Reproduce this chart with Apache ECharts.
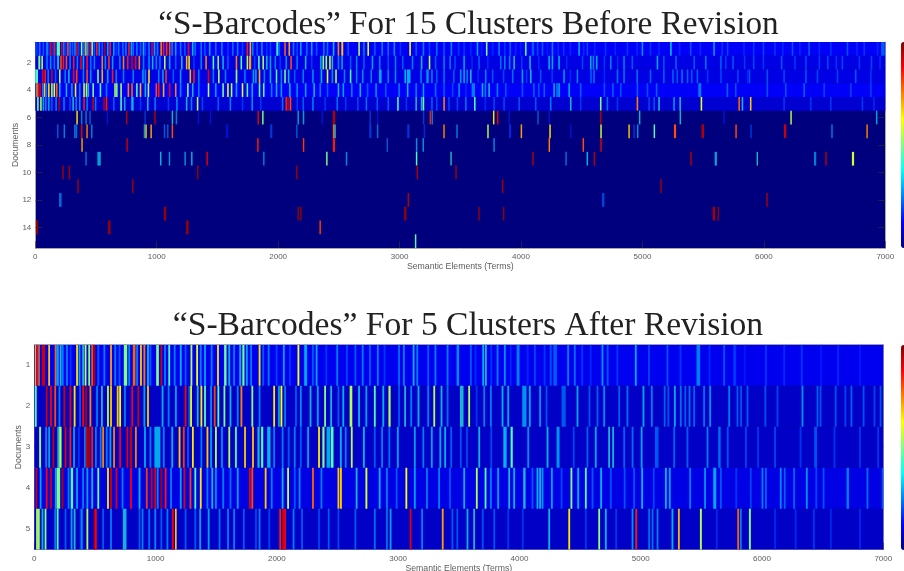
<!DOCTYPE html>
<html><head><meta charset="utf-8">
<style>html,body{margin:0;padding:0;background:#fff}#c{width:904px;height:571px;filter:blur(.6px)}</style>
<script src="https://cdn.jsdelivr.net/npm/echarts@6/dist/echarts.min.js"></script>
</head><body><div id="c"></div>
<script>
const titleTop = '\u201CS-Barcodes\u201D For 15 Clusters Before Revision';
const titleBottom = '\u201CS-Barcodes\u201D For 5 Clusters After Revision';
const xName = 'Semantic Elements (Terms)';
const yName = 'Documents';
const topDocs = ['1','2','3','4','5','6','7','8','9','10','11','12','13','14','15'];
const bottomDocs = ['1','2','3','4','5'];
const rowBase = {t1:.12,t2:.1,t3:.1,t4:.12,t5:.08,b1:.11,b2:.07,b3:.07,b4:.1,b5:.07};
const t1=[[0,.2,20],[30,.3],[60,.25],[90,.35],[105,.2],[120,.9],[135,.18],[150,.85],[165,.22],[178,.45,25],[212,.9],[228,.3],[245,.2],[262,.8],[280,.3],[300,.25],[320,.32],[335,.9],[350,.22],[375,.5],[395,.3],[410,.7],[425,.35],[445,.92],[462,.5],[480,.25],[500,.85],[520,.32],[545,.25],[565,.95],[590,.35],[610,.85],[640,.35],[660,.2],[680,.3],[715,.28],[740,.3],[765,.85],[785,.35],[800,.28],[830,.3],[860,.25],[885,.4],[900,.22],[930,.3],[955,.9],[975,.35],[1000,.3],[1030,.75],[1050,.85],[1075,.82],[1100,.8],[1120,.3],[1150,.35],[1190,.3],[1225,.25],[1255,.88],[1290,.4],[1310,.28],[1360,.3],[1390,.25],[1430,.35],[1480,.28],[1530,.3],[1580,.2],[1620,.28],[1660,.3],[1700,.22],[1740,.85],[1765,.7],[1785,.3],[1820,.25],[1860,.32],[1900,.2],[1930,.22],[1985,.45],[2000,.3],[2050,.78],[2085,.72],[2120,.3],[2150,.22],[2180,.35],[2230,.28],[2270,.35],[2310,.25],[2370,.3],[2400,.28],[2450,.4],[2490,.75],[2520,.68,16],[2570,.25],[2660,.55],[2700,.3],[2735,.6],[2790,.25],[2850,.3],[2900,.28],[2950,.32],[3000,.2],[3080,.62],[3130,.25],[3190,.3],[3240,.22],[3300,.28],[3360,.25],[3420,.3],[3480,.2],[3525,.2],[3580,.18],[3635,.35],[3670,.16],[3711,.5],[3760,.18],[3813,.3],[3860,.2],[3904,.25,14],[3950,.18],[3990,.16],[4033,.45],[4088,.25,20],[4130,.22,14],[4170,.25],[4210,.16],[4252,.3],[4300,.18],[4345,.2],[4400,.18],[4472,.35],[4510,.18],[4540,.22],[4600,.18],[4690,.2],[4770,.18],[4870,.2],[4950,.18],[4993,.33],[5060,.2],[5130,.18],[5227,.36,15],[5300,.18],[5391,.24],[5470,.18],[5583,.33,14],[5650,.2],[5695,.22],[5830,.18],[5910,.2],[5990,.22],[6085,.2],[6150,.18],[6229,.24],[6290,.18],[6366,.25],[6450,.18],[6545,.2],[6682,.24],[6760,.18],[6820,.2],[6930,.18],[6965,.25,30]];
const t2=[[25,.5,16],[50,.55],[90,.3],[120,.32],[150,.28],[180,.42,16],[205,.8],[225,.85],[250,.8],[280,.3],[310,.85],[340,.3],[370,.88],[390,.35],[420,.85],[450,.28],[480,.3],[545,.75],[570,.3],[600,.82],[630,.35],[690,.3],[720,.75],[755,.85],[790,.92],[820,.88],[850,.75],[885,.3],[930,.32],[960,.4],[990,.3],[1020,.28],[1060,.55],[1100,.35],[1150,.25],[1200,.4],[1240,.7],[1260,.65],[1300,.2],[1360,.3],[1400,.75],[1460,.45],[1500,.5],[1540,.4],[1580,.25],[1650,.75],[1690,.45],[1740,.55],[1760,.72,18],[1800,.22],[1835,.45],[1870,.55],[1900,.4],[1930,.35],[1970,.3],[2010,.2],[2060,.32],[2100,.8],[2150,.3],[2220,.4],[2270,.2],[2345,.35],[2365,.5],[2390,.55],[2420,.58],[2440,.42],[2490,.3],[2520,.35],[2590,.25],[2640,.3],[2700,.25],[2770,.35],[2830,.3],[2900,.22],[2960,.3],[3020,.25],[3100,.3],[3175,.4],[3240,.55],[3290,.25],[3360,.3],[3410,.28],[3450,.22],[3525,.35],[3590,.18],[3648,.25],[3720,.18],[3827,.28],[3860,.3],[3900,.3],[3937,.42],[4000,.2],[4068,.4],[4140,.18],[4225,.36],[4252,.36],[4307,.36],[4370,.18],[4500,.22],[4568,.36],[4590,.3],[4617,.36],[4680,.2],[4733,.3],[4790,.18],[4842,.3],[4910,.24],[5117,.36],[5170,.24],[5270,.26],[5420,.24],[5515,.28],[5640,.26],[5680,.2],[5740,.24],[5835,.2],[5910,.22],[5990,.2],[6140,.24],[6250,.2],[6340,.22],[6450,.2],[6520,.22],[6590,.2],[6640,.22],[6780,.2],[6880,.22],[6950,.18]];
const t3=[[0,.45,22],[55,.9],[75,.85],[100,.3],[130,.92],[160,.25],[195,.55],[240,.3],[270,.4],[310,.88],[335,.82],[390,.3],[420,.8],[450,.32],[510,.5],[545,.7],[590,.35],[630,.85],[660,.3],[720,.3],[800,.3],[880,.35],[900,.3],[930,.65],[1010,.3],[1045,.35],[1070,.82],[1130,.25],[1190,.35],[1270,.7],[1300,.85],[1340,.3],[1420,.9],[1460,.3],[1505,.55],[1560,.3],[1650,.52,14],[1720,.3],[1790,.35],[1810,.35],[1840,.7],[1880,.3],[1930,.38],[1980,.45],[2020,.3],[2050,.5],[2080,.4],[2130,.25],[2200,.3],[2280,.32],[2350,.38],[2400,.6],[2440,.32],[2470,.55],[2540,.3],[2590,.45],[2640,.3],[2690,.32],[2760,.3],[2830,.36,22],[2900,.3],[2960,.32],[3040,.38],[3060,.36,30],[3170,.3],[3220,.33,20],[3260,.3],[3300,.25],[3360,.28],[3440,.25],[3497,.33],[3525,.35],[3550,.3],[3580,.42],[3640,.18],[3703,.3],[3760,.24],[3850,.22],[3925,.28],[4005,.35],[4040,.2],[4074,.4],[4155,.24],[4250,.2],[4348,.33],[4400,.18],[4458,.3],[4570,.26],[4595,.28],[4680,.18],[4788,.28],[4842,.28],[4950,.28],[5060,.26],[5170,.26],[5245,.26],[5280,.24],[5320,.28],[5365,.26],[5400,.24],[5446,.26],[5530,.2],[5640,.22],[5780,.22],[5875,.24],[5860,.18],[6022,.24],[6160,.22],[6340,.24],[6435,.22],[6600,.22],[6750,.24],[6875,.2]];
const t4=[[8,.72,12],[22,.88],[35,.93],[55,.3],[70,.68],[85,.28],[105,.66],[130,.55],[150,.6],[170,.78],[195,.4],[250,.42],[295,.35],[325,.65],[360,.3],[395,.6],[415,.55],[430,.4],[470,.5],[530,.45],[580,.3],[650,.55],[665,.5],[700,.55],[760,.75],[790,.78],[830,.45],[860,.7],[900,.4],[925,.55],[990,.8],[1010,.85],[1050,.7],[1100,.88],[1150,.75],[1190,.32],[1250,.5],[1290,.42],[1340,.3],[1420,.55],[1480,.35],[1540,.5],[1580,.6],[1610,.55],[1650,.35],[1700,.6],[1740,.45],[1780,.38],[1840,.48],[1875,.45],[1940,.3],[1980,.38],[2020,.35],[2090,.38],[2150,.32],[2220,.35],[2290,.4],[2340,.3],[2400,.25],[2490,.42],[2530,.35],[2600,.3],[2670,.38],[2730,.25],[2800,.33],[2880,.25],[2990,.3],[3060,.4],[3130,.3],[3190,.35],[3290,.28],[3360,.25],[3430,.22],[3484,.33],[3540,.18],[3593,.3,28],[3676,.38],[3700,.3],[3731,.42],[3799,.3],[3868,.24],[4005,.24],[4100,.26],[4140,.24],[4185,.26],[4266,.36],[4290,.3],[4307,.36],[4390,.36],[4485,.26],[4680,.24],[4750,.26],[4815,.24],[4952,.26],[5035,.24],[5110,.26],[5460,.3,24],[5693,.26],[5762,.24],[6022,.24],[6174,.24],[6325,.26],[6490,.22],[6710,.22],[6875,.22]];
const t5=[[15,.5],[40,.55],[60,.35],[80,.3],[105,.35],[130,.25],[165,.3],[190,.95],[230,.3],[280,.22],[305,.42],[330,.3],[360,.32],[395,.85],[420,.3],[470,.92],[490,.3],[560,.95],[580,.85],[640,.25],[700,.45],[730,.35],[790,.38,20],[860,.2],[920,.4],[980,.3],[1090,.2],[1160,.32],[1240,.4],[1280,.3],[1330,.55],[1370,.22],[1500,.25],[1600,.3],[1700,.2],[1780,.32],[1850,.2],[2030,.28],[2060,.85],[2075,.92],[2095,.8],[2150,.2],[2200,.25],[2280,.3],[2380,.2],[2480,.28],[2550,.2],[2650,.22],[2720,.28],[2810,.25],[2900,.25],[2980,.45],[3050,.2],[3130,.42],[3175,.38],[3190,.48],[3260,.25],[3300,.22],[3360,.75],[3400,.22],[3470,.22],[3539,.28],[3613,.45],[3700,.18],[3772,.22],[3854,.22],[3978,.24],[4115,.24],[4238,.3],[4403,.42],[4485,.2],[4650,.5],[4705,.28],[4788,.2],[4952,.75],[5048,.22],[5090,.24],[5130,.42],[5254,.33],[5304,.42],[5479,.6],[5790,.78],[5817,.42],[5885,.68],[6160,.2],[6380,.2],[6545,.2],[6805,.2],[6900,.18]];
const t6=[[338,.65],[376,.3],[412,.3],[445,.25],[588,.15],[747,.95],[898,.2],[980,.95],[1123,.4],[1156,.3],[1338,.15],[1437,.15],[1830,.9],[1868,.5],[2159,.35],[2203,.35],[2357,.15],[2450,.95,20],[2752,.2],[2813,.15],[3192,.2],[3247,.85],[3263,.3],[3769,.65],[3802,.9],[3898,.15],[4134,.25],[4227,.15],[4650,.95],[4971,.4],[5306,.4],[5666,.15],[6218,.55],[6923,.35]];
const t7=[[179,.25],[233,.3],[320,.3],[333,.28],[376,.9],[420,.75],[459,.3],[893,.35],[906,.68],[948,.72],[1058,.25],[1085,.25],[1123,.8],[1571,.15,18],[1934,.2,18],[2148,.25],[2450,.78,16],[2464,.35],[2750,.2,18],[2813,.28],[3063,.2,18],[3198,.18],[3360,.75],[3467,.3],[3722,.55],[3901,.18,18],[3997,.72],[4233,.65],[4403,.15],[4653,.58],[4884,.68],[4925,.2],[4955,.33],[5092,.45],[5259,.8,18],[5487,.95,20],[5765,.8],[5888,.2],[6166,.92,18],[6555,.3],[6844,.75]];
const t8=[[379,.72],[750,.93],[1827,.85],[2203,.82],[2450,.85,18],[2893,.25],[3134,.33],[3189,.33],[3772,.32],[4227,.75],[4507,.8],[4653,.9]];
const t9=[[412,.28],[511,.35,28],[1027,.38],[1099,.33],[1228,.33],[1283,.38],[1409,.9],[1876,.3],[2395,.5],[2557,.32],[3134,.45],[3418,.43],[4093,.95],[4365,.28],[4540,.38],[4598,.95],[5394,.95],[5595,.36,18],[5940,.42],[6413,.3,18],[6506,.95],[6725,.58,18]];
const t10=[[222,.97],[275,.97],[1332,.98],[2148,.97],[3140,.96],[3459,.97]];
const t11=[[346,.97],[797,.97],[3843,.97],[5147,.97]];
const t12=[[195,.27,22],[3066,.95],[4667,.22,20],[6020,.96]];
const t13=[[1060,.97,18],[2159,.98],[2181,.98],[3038,.97,18],[3648,.98],[3851,.98],[5578,.96,20],[5619,.98]];
const t14=[[5,.98,18],[599,.97,20],[1242,.97,20],[2340,.82]];
const t15=[[3126,.45]];
const b1=[[6,.7,10],[18,.88,14],[34,.72,10],[62,.93,28],[115,.68],[130,.12,20],[168,.78,14],[182,.35,20],[210,.42],[228,.3,14],[262,.3],[292,.2],[345,.66],[365,.35],[395,.42],[415,.55],[445,.5],[470,.8],[487,.95],[520,.25],[570,.3],[625,.72],[660,.3],[695,.25],[738,.5,28],[775,.32],[812,.78,22],[840,.3],[872,.68],[900,.76],[930,.4],[950,.25],[1005,.5,22],[1040,.93],[1070,.3],[1105,.45],[1150,.3],[1200,.38],[1240,.25],[1288,.55],[1335,.6],[1365,.3],[1400,.35],[1455,.3],[1507,.65],[1565,.48,20],[1600,.4],[1640,.3],[1690,.38],[1715,.48,18],[1745,.35],[1780,.3],[1850,.65],[1880,.25],[1925,.3],[1990,.22],[2050,.35],[2100,.2],[2170,.62],[2225,.36,24],[2290,.25],[2320,.36],[2400,.2],[2490,.3],[2570,.22],[2640,.25],[2700,.3],[2760,.25],[2825,.3],[2880,.2],[3000,.28],[3040,.3],[3120,.38],[3150,.3],[3240,.25],[3300,.3],[3400,.3],[3482,.32,20],[3592,.25],[3630,.18],[3694,.38],[3716,.4],[3760,.2],[3812,.3],[3872,.33],[3920,.18],[3977,.3,24],[4060,.18],[4120,.22],[4200,.2],[4250,.24],[4279,.25,30],[4394,.3],[4449,.28],[4510,.2],[4580,.18],[4677,.33],[4720,.24],[4800,.2],[4952,.36],[5060,.22],[5213,.24],[5320,.2],[5460,.3,30],[5560,.18],[5680,.24],[5763,.2,24],[5850,.16],[6025,.2],[6175,.18],[6320,.2],[6480,.16],[6620,.18],[6800,.16]];
const b2=[[5,.45],[95,.93],[130,.88],[165,.8],[200,.3],[240,.92],[290,.9],[325,.65],[370,.25],[395,.88],[420,.95],[455,.75],[510,.3],[550,.42],[600,.55],[625,.68],[680,.68],[700,.62],[740,.3],[800,.88],[850,.92],[900,.35],[930,.68],[1050,.38],[1100,.3],[1160,.35],[1240,.88],[1270,.25],[1285,.6],[1340,.4],[1370,.65],[1400,.45],[1450,.32],[1480,.82],[1510,.45],[1560,.5],[1610,.4],[1670,.3],[1700,.75],[1790,.5],[1850,.3],[1970,.65],[2010,.35],[2030,.62],[2060,.3],[2150,.25],[2190,.32],[2270,.4],[2330,.35],[2390,.5],[2440,.4],[2500,.25],[2540,.38],[2600,.55,22],[2670,.4],[2730,.35],[2800,.45],[2870,.38],[2920,.55,18],[3000,.25],[3050,.42],[3100,.3],[3160,.38],[3240,.3],[3290,.55],[3350,.4],[3400,.28],[3509,.42,30],[3578,.55],[3640,.2],[3702,.3],[3757,.3],[3853,.38],[3900,.36],[4023,.33,35],[4078,.36],[4163,.33],[4216,.24],[4347,.25,35],[4471,.36],[4570,.24],[4636,.26],[4691,.32],[4815,.26],[4883,.28],[5015,.36],[5084,.3],[5190,.26],[5220,.24],[5274,.36],[5323,.28],[5360,.26],[5395,.28],[5433,.26],[5515,.28],[5565,.33],[5722,.3],[5790,.25],[5820,.24],[5873,.25],[6020,.24],[6120,.22],[6326,.33],[6450,.26],[6475,.24],[6600,.24],[6680,.22],[6730,.26],[6830,.24],[6920,.22],[6970,.24]];
const b3=[[40,.52,16],[90,.3],[115,.35],[150,.93],[190,.4],[205,.55,20],[250,.9],[290,.85],[320,.35],[360,.2],[410,.3],[425,.92],[445,.95],[470,.85],[500,.3],[540,.3],[560,.75],[590,.3],[620,.35],[650,.75],[700,.88],[760,.9],[790,.92],[830,.75],[905,.36],[950,.3],[990,.36,50],[1060,.3],[1130,.38],[1190,.68],[1225,.82],[1260,.25],[1300,.65],[1370,.3],[1420,.68],[1450,.35],[1490,.55],[1540,.32],[1600,.55],[1655,.45],[1730,.68],[1795,.7,16],[1840,.42,18],[1870,.45,18],[1920,.38,28],[1970,.3],[2040,.3],[2090,.25],[2140,.3],[2190,.25],[2250,.35],[2340,.65],[2375,.5,18],[2410,.36,30],[2445,.45,22],[2520,.38],[2560,.3],[2610,.55],[2710,.38],[2800,.25],[2860,.3],[2920,.28],[2990,.35],[3130,.35],[3200,.3],[3270,.35],[3340,.36],[3380,.38],[3430,.26],[3509,.24],[3560,.22],[3661,.4],[3760,.22],[3867,.38],[3880,.36],[3927,.45,18],[4065,.33],[4224,.38],[4306,.33,25],[4440,.22],[4553,.26],[4622,.36],[4732,.42],[4765,.4],[4856,.26],[4925,.28],[5000,.36],[5117,.25,30],[5268,.26],[5378,.26],[5543,.3],[5639,.28,20],[5710,.24],[5860,.22],[5960,.2],[6100,.22],[6310,.2],[6430,.24,24],[6590,.2],[6800,.2],[6950,.2]];
const b4=[[10,.93],[45,.36,14],[95,.88],[130,.92],[170,.35],[185,.5,28],[225,.95],[275,.3],[300,.45,20],[345,.35],[395,.3],[430,.35],[470,.4],[520,.48],[600,.65],[625,.92],[670,.9],[720,.3],[790,.88],[860,.4],[920,.82],[960,.92],[990,.9],[1010,.3],[1040,.95],[1075,.85],[1120,.3],[1200,.35],[1230,.9],[1280,.82],[1320,.45],[1365,.65],[1420,.3],[1460,.4],[1490,.32],[1550,.3],[1610,.28],[1670,.35],[1770,.9],[1790,.8],[1900,.68],[1950,.3],[2040,.4],[2085,.58],[2140,.25],[2180,.32],[2290,.78],[2360,.3],[2500,.68],[2520,.68,16],[2650,.42],[2730,.58,16],[2840,.38],[2900,.3],[2980,.25],[3060,.62],[3130,.35],[3230,.3],[3330,.3],[3420,.24],[3537,.38],[3641,.55],[3713,.45],[3757,.3],[3817,.35],[3908,.42],[3949,.38],[4031,.42,20],[4100,.25],[4141,.38],[4163,.38],[4183,.33],[4260,.35],[4340,.22],[4421,.5],[4477,.38],[4540,.45],[4595,.25],[4666,.38],[4746,.24],[4860,.24],[4938,.24],[5004,.38],[5100,.22],[5200,.38],[5232,.36],[5400,.3],[5523,.33],[5598,.36,25],[5653,.25],[5780,.2],[5900,.22],[5996,.3],[6025,.26],[6147,.32],[6180,.26],[6257,.26],[6362,.33],[6440,.22],[6500,.24],[6697,.3,20],[6862,.28],[6986,.24]];
const b5=[[15,.55],[30,.52],[60,.4],[85,.5],[165,.3],[185,.45],[250,.25],[300,.35],[325,.42],[375,.22],[385,.3],[430,.55],[490,.95],[500,.88],[560,.25],[625,.3],[730,.4,30],[860,.25],[885,.3],[940,.28],[990,.32],[1040,.25],[1090,.3],[1135,.88],[1160,.68,14],[1240,.25],[1320,.25],[1360,.35],[1430,.35],[1520,.28],[1590,.3],[1640,.3],[1720,.25],[1820,.22],[1850,.3],[1930,.22],[2020,.85],[2045,.9],[2060,.88],[2130,.3],[2200,.25],[2340,.22],[2420,.25],[2500,.22],[2640,.25],[2800,.28],[2900,.28],[2930,.35],[3095,.9],[3190,.3],[3360,.72],[3440,.25],[3480,.24],[3564,.38],[3619,.42],[3690,.24],[3785,.24],[3900,.2],[4020,.2],[4238,.4],[4403,.65],[4540,.2],[4650,.52],[4705,.38],[4790,.2],[4925,.33],[4955,.85],[5062,.28],[5090,.28],[5131,.3],[5254,.38],[5307,.7],[5488,.55,16],[5620,.18],[5796,.78],[5818,.3],[5892,.5,16],[6100,.18],[6270,.18],[6420,.2],[6560,.18],[6800,.18]];
const topRows=[t1,t2,t3,t4,t5,t6,t7,t8,t9,t10,t11,t12,t13,t14,t15];
const bottomRows=[b1,b2,b3,b4,b5];
const denseTop=[rowBase.t1,rowBase.t2,rowBase.t3,rowBase.t4,rowBase.t5];
const denseBottom=[rowBase.b1,rowBase.b2,rowBase.b3,rowBase.b4,rowBase.b5];
const jet=['#00007f','#0000ff','#007fff','#00ffff','#7fff7f','#ffff00','#ff7f00','#ff0000','#7f0000'];

function build(rows,bases,denseW,thinW){
  const out=[];
  bases.forEach((b,i)=>out.push([0,b,i,7000]));
  rows.forEach((r,i)=>r.forEach(m=>out.push([m[0],m[1],i,m[2]||(i<5?denseW:thinW)])));
  return out;
}
function render(params,api){
  const x=api.value(0),w=api.value(3),row=api.value(2),v=api.value(1);
  const s=api.coord([x,row]),e=api.coord([x+w,row]);
  const h=api.size([0,1])[1];
  return {type:'rect',shape:{x:s[0],y:s[1]-h/2,width:Math.max(e[0]-s[0],1),height:h},style:{fill:api.visual('color'),opacity:(w<7000&&v<.45)?.7:1}};
}
const spine='#a8a8a8', tickC='#333', lab='#5c5c5c', font='"Liberation Sans"';
function xa(g,top){return {type:'value',gridIndex:g,min:0,max:7000,interval:1000,position:top?'top':'bottom',
  axisLine:{show:true,onZero:false,lineStyle:{color:spine,width:1}},axisTick:{show:!top,inside:true,length:7,lineStyle:{color:tickC,width:.6}},
  axisLabel:top?{show:false}:{show:true,color:lab,fontSize:8,fontFamily:font,margin:5,formatter:v=>String(v),hideOverlap:false},splitLine:{show:false},
  name:top?'':xName,nameLocation:'middle',nameGap:14,nameTextStyle:{color:lab,fontSize:8.7,fontFamily:font}};}
function ya(g,docs,right,step){const itv=i=>(i+1)%step===0;return {type:'category',gridIndex:g,data:docs,inverse:true,position:right?'right':'left',
  axisLine:{show:true,onZero:false,lineStyle:{color:spine,width:1}},axisTick:{show:true,inside:true,length:7,alignWithLabel:true,interval:itv,lineStyle:{color:tickC,width:.6}},
  axisLabel:right?{show:false}:{show:true,color:lab,fontSize:8,fontFamily:font,margin:4,interval:itv},splitLine:{show:false},
  name:right?'':yName,nameLocation:'middle',nameMoveOverlap:false,nameGap:g===0?15:11,nameRotate:90,nameTextStyle:{color:lab,fontSize:8.7,fontFamily:font}};}
const grids=[{left:35.3,width:850,top:42,height:206,backgroundColor:'#00007f',show:true,borderWidth:0,outerBoundsMode:'none'},{left:34.3,width:849,top:344.7,height:205,backgroundColor:'#00007f',show:true,borderWidth:0,outerBoundsMode:'none'}];
const vm=(idx,top,h)=>({type:'continuous',seriesIndex:idx,dimension:1,min:0,max:1,left:901,top:top,itemWidth:10,itemHeight:h,text:['',''],showLabel:false,calculable:false,inRange:{color:jet},padding:0,hoverLink:false});
const chart=echarts.init(document.getElementById('c'),null,{renderer:'canvas'});
chart.setOption({animation:false,backgroundColor:'#fff',
  title:[{text:titleTop,left:463.5,top:4,textAlign:'center',textStyle:{fontFamily:'"Liberation Serif"',fontWeight:'normal',fontSize:33.2,color:'#222'}},
         {text:titleBottom,left:463,top:304,textAlign:'center',textStyle:{fontFamily:'"Liberation Serif"',fontWeight:'normal',fontSize:33.6,color:'#222'}}],
  grid:grids,
  xAxis:[xa(0,false),xa(0,true),xa(1,false),xa(1,true)],
  yAxis:[ya(0,topDocs,false,2),ya(0,topDocs,true,2),ya(1,bottomDocs,false,1),ya(1,bottomDocs,true,1)],
  visualMap:[vm(0,42,206),vm(1,345,205)],
  series:[{type:'custom',xAxisIndex:0,yAxisIndex:0,renderItem:render,clip:true,encode:{x:0,y:2},silent:true,data:build(topRows,denseTop,13,12)},
          {type:'custom',xAxisIndex:2,yAxisIndex:2,renderItem:render,clip:true,encode:{x:0,y:2},silent:true,data:build(bottomRows,denseBottom,15,12)}]
});
</script></body></html>
